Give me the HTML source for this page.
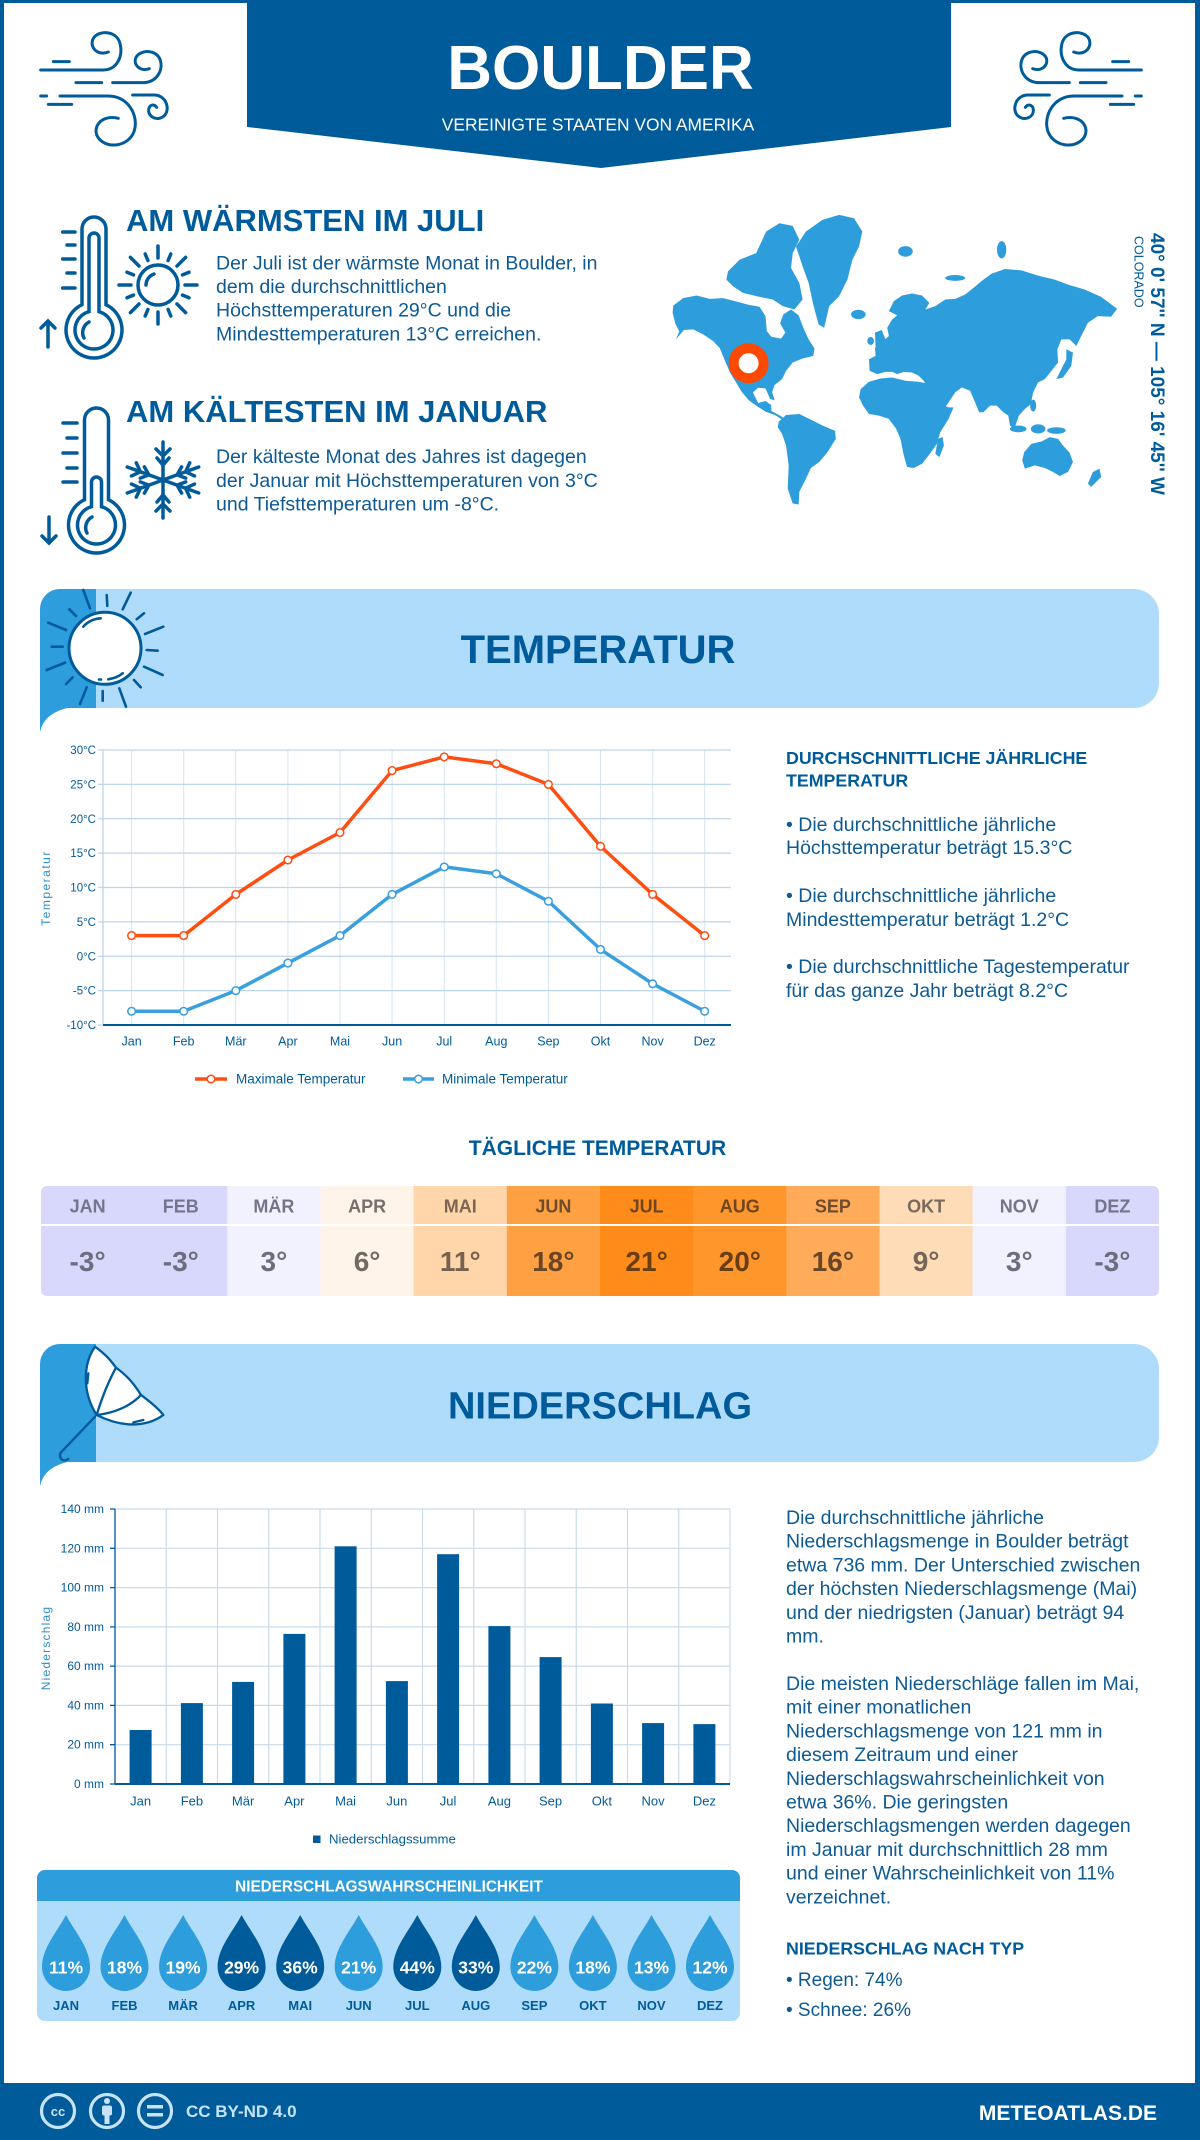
<!DOCTYPE html>
<html><head><meta charset="utf-8">
<style>
html,body{margin:0;padding:0;background:#fff;}
svg{display:block;}
text{font-family:"Liberation Sans",sans-serif;}
</style></head><body>
<svg width="1200" height="2140" viewBox="0 0 1200 2140" xmlns="http://www.w3.org/2000/svg">
<defs>
<path id="drop" d="M0,-52 C9,-35 24,-19 24,0 A24,24 0 1 1 -24,0 C-24,-19 -9,-35 0,-52 Z"/>
<g id="wind" fill="none" stroke="#005b9b" stroke-width="9" stroke-linecap="round">
<path d="M100,155 H148"/>
<path d="M62,180 H250 C290,180 310,140 300,100 C290,62 240,60 222,82 C205,105 228,140 265,126"/>
<path d="M168,218 H245"/>
<path d="M278,218 H368 C410,218 432,180 420,148 C408,118 362,118 348,142 C338,165 362,186 388,176"/>
<path d="M62,258 H80"/>
<path d="M120,258 H265 C325,258 358,318 342,365 C325,410 262,418 236,385 C214,356 240,312 295,325"/>
<path d="M85,283 H155"/>
<path d="M338,255 H402 C440,255 452,300 432,318 C412,334 385,322 386,300 C387,284 402,280 410,292"/>
</g>
</defs>

<!-- page border -->
<rect x="0" y="0" width="1200" height="3" fill="#005b9b"/>
<rect x="0" y="0" width="4" height="2140" fill="#005b9b"/>
<rect x="1195" y="0" width="5" height="2140" fill="#005b9b"/>

<!-- header -->
<polygon points="247,0 951,0 951,127 601,168 247,127" fill="#005b9b"/>
<text x="600.5" y="89" font-size="62" font-weight="bold" fill="#fff" text-anchor="middle">BOULDER</text>
<text x="598" y="130.5" font-size="17.4" fill="#fff" text-anchor="middle">VEREINIGTE STAATEN VON AMERIKA</text>
<g transform="translate(20,10) scale(0.3333)"><use href="#wind"/></g>
<g transform="translate(1182,0) scale(-1,1) translate(20,10) scale(0.3333)"><use href="#wind"/></g>

<!-- warm thermometer -->
<g fill="none" stroke="#005b9b" stroke-width="3.5" stroke-linecap="round">
<path d="M82,304.7 V229 A12,12 0 0 1 106,229 V304.7 A28,28 0 1 1 82,304.7 Z"/>
<path d="M89,311.7 V238 A5,5 0 0 1 99,238 V311.7 A19,19 0 1 1 89,311.7 Z"/>
<path d="M84,338 A12,12 0 0 1 89,322"/>
<path d="M62.7,232 H75 M67,245 H75 M62.7,259 H75 M67,273 H75 M62.7,288 H75"/>
<path d="M48,347 V321 M41,328 L48,321 L55,328"/>
<circle cx="158" cy="285" r="20"/>
<path d="M146,285 A12,12 0 0 1 154,274"/>
<g transform="translate(158,285)">
<path d="M0,-27 V-39 M0,27 V39 M-27,0 H-39 M27,0 H39 M19,-19 L27.6,-27.6 M-19,-19 L-27.6,-27.6 M19,19 L27.6,27.6 M-19,19 L-27.6,27.6"/>
<path d="M10.1,-24.5 L12.8,-31 M-10.1,-24.5 L-12.8,-31 M10.1,24.5 L12.8,31 M-10.1,24.5 L-12.8,31 M24.5,-10.1 L31,-12.8 M-24.5,-10.1 L-31,-12.8 M24.5,10.1 L31,12.8 M-24.5,10.1 L-31,12.8"/>
</g>
</g>
<text x="126" y="231" font-size="31" font-weight="bold" fill="#005b9b">AM WÄRMSTEN IM JULI</text>
<g font-size="19.5" fill="#0d5a94">
<text x="216" y="269.5">Der Juli ist der wärmste Monat in Boulder, in</text>
<text x="216" y="293">dem die durchschnittlichen</text>
<text x="216" y="316.7">Höchsttemperaturen 29°C und die</text>
<text x="216" y="340.4">Mindesttemperaturen 13°C erreichen.</text>
</g>

<!-- cold thermometer -->
<g fill="none" stroke="#005b9b" stroke-width="3.5" stroke-linecap="round">
<path d="M84.5,499.7 V420 A12,12 0 0 1 108.5,420 V499.7 A28,28 0 1 1 84.5,499.7 Z"/>
<path d="M91.5,506.7 V482 A5,5 0 0 1 101.5,482 V506.7 A19,19 0 1 1 91.5,506.7 Z"/>
<path d="M87,533 A12,12 0 0 1 92,517"/>
<path d="M63,423 H77 M67,438 H77 M63,453 H77 M67,468 H77 M63,482 H77"/>
<path d="M49,517 V543 M42,536 L49,543 L56,536"/>
<g transform="translate(163,480)">
<g id="arm"><path d="M0,0 V-38 M-7,-31 L0,-24 L7,-31 M-6,-22 L0,-15 L6,-22"/></g>
<use href="#arm" transform="rotate(70)"/>
<use href="#arm" transform="rotate(110)"/>
<use href="#arm" transform="rotate(180)"/>
<use href="#arm" transform="rotate(250)"/>
<use href="#arm" transform="rotate(290)"/>
</g>
</g>
<text x="126" y="422" font-size="31" font-weight="bold" fill="#005b9b">AM KÄLTESTEN IM JANUAR</text>
<g font-size="19.5" fill="#0d5a94">
<text x="216" y="463">Der kälteste Monat des Jahres ist dagegen</text>
<text x="216" y="487">der Januar mit Höchsttemperaturen von 3°C</text>
<text x="216" y="510.5">und Tiefsttemperaturen um -8°C.</text>
</g>

<!-- world map -->
<g fill="#2e9ddc" transform="translate(660,200) scale(0.3317)">
<path d="M40,318 L70,296 L110,288 L150,298 L190,296 L230,306 L268,316 L300,322 L318,350 L322,395 L335,412 L365,418 L378,400 L362,372 L372,345 L395,330 L418,348 L432,385 L448,420 L466,448 L462,470 L430,478 L400,490 L380,515 L368,540 L345,558 L338,580 L346,604 L332,600 L318,568 L296,566 L280,580 L296,612 L318,606 L335,618 L336,636 L362,650 L388,666 L372,664 L346,648 L318,638 L296,624 L268,604 L246,578 L228,548 L212,522 L200,495 L190,470 L180,446 L160,425 L130,405 L100,390 L72,392 L48,420 L58,396 L46,372 L38,340 Z"/>
<path d="M205,215 L240,180 L290,160 L320,95 L360,70 L400,78 L420,120 L400,160 L395,205 L420,250 L430,300 L405,330 L370,320 L340,300 L300,292 L250,280 L220,260 L200,240 Z"/>
<path d="M410,140 L440,95 L490,60 L540,45 L585,55 L610,95 L600,140 L580,180 L565,240 L540,290 L510,320 L495,385 L478,375 L462,315 L448,250 L430,200 Z"/>
<ellipse cx="598" cy="345" rx="22" ry="14"/>
<path d="M648,400 L668,392 L680,420 L672,445 L650,442 Z"/>
<ellipse cx="635" cy="425" rx="10" ry="12"/>
<path d="M690,335 L705,305 L730,288 L760,282 L790,288 L812,310 L800,330 L830,320 L860,300 L890,298 L920,285 L945,265 L975,240 L1000,222 L1040,208 L1090,212 L1140,228 L1190,240 L1230,255 L1280,270 L1330,292 L1378,328 L1360,352 L1320,350 L1290,370 L1270,410 L1255,440 L1235,420 L1210,420 L1198,450 L1200,490 L1180,515 L1160,540 L1140,550 L1125,580 L1118,615 L1100,630 L1082,650 L1068,690 L1055,680 L1050,650 L1035,640 L1015,620 L995,620 L975,640 L962,640 L950,610 L935,575 L910,565 L890,580 L880,595 L860,625 L840,625 L822,600 L810,570 L795,545 L780,530 L760,520 L735,518 L715,525 L700,518 L680,518 L655,525 L632,515 L630,480 L650,470 L648,445 L668,430 L690,410 L685,385 L700,360 L715,348 Z"/>
<path d="M605,570 L630,548 L665,538 L700,535 L740,545 L780,548 L800,552 L820,585 L840,615 L870,625 L885,625 L870,660 L845,700 L835,735 L810,770 L790,795 L765,808 L745,805 L735,770 L725,720 L712,690 L690,660 L660,650 L630,645 L612,620 L600,595 Z"/>
<path d="M838,720 L852,715 L856,740 L842,775 L830,765 Z"/>
<path d="M358,668 L380,648 L420,645 L450,660 L490,680 L528,696 L530,720 L505,760 L480,790 L455,808 L440,840 L420,880 L418,918 L400,915 L385,870 L388,800 L380,740 L368,705 L355,685 Z"/>
<path d="M1098,760 L1120,735 L1150,728 L1175,715 L1200,720 L1215,740 L1235,762 L1245,790 L1230,820 L1205,832 L1185,820 L1160,808 L1130,800 L1100,810 L1092,785 Z"/>
<ellipse cx="1080" cy="690" rx="25" ry="10"/>
<ellipse cx="1140" cy="690" rx="22" ry="14"/>
<ellipse cx="1195" cy="695" rx="28" ry="10"/>
<ellipse cx="1125" cy="620" rx="9" ry="18"/>
<path d="M1225,450 L1245,460 L1240,500 L1215,535 L1195,540 L1210,510 L1225,480 Z"/>
<path d="M1305,820 L1325,810 L1330,835 L1300,865 L1290,855 Z"/>
<ellipse cx="740" cy="155" rx="22" ry="16"/>
<ellipse cx="1030" cy="150" rx="14" ry="26"/>
<ellipse cx="890" cy="235" rx="30" ry="9"/>
</g>
<circle cx="748.6" cy="363.2" r="15" fill="#fff" stroke="#fe4a00" stroke-width="10"/>
<text transform="translate(1151,233) rotate(90)" font-size="19" font-weight="bold" fill="#005b9b">40° 0' 57'' N — 105° 16' 45'' W</text>
<text transform="translate(1134.5,236) rotate(90)" font-size="12.5" fill="#005b9b">COLORADO</text>

<!-- TEMPERATUR banner -->
<path d="M60,589 H1134 A25,25 0 0 1 1159,614 V683 A25,25 0 0 1 1134,708 H40 V609 A20,20 0 0 1 60,589 Z" fill="#b0dcfc"/>
<path d="M40,609 A20,20 0 0 1 60,589 H96 V708 H40 Z" fill="#2e9ddc"/>
<path d="M40,707 H72 Q44,712 40,732 Z" fill="#2e9ddc"/>
<g stroke="#005b9b" stroke-width="2.6" stroke-linecap="round" fill="none">
<path d="M83.3,590 L90,608.3 M106.7,595 L107.3,606 M130.7,592.7 L122.7,609.3 M144,613.3 L136.7,619.3 M163.3,626.7 L145,634 M146.7,650 L157.7,650.7 M144,666.7 L162.7,675 M134,680 L140.7,687.3 M119.3,688.3 L126,706.7 M102.7,691 L102.7,700.7 M86.7,687.3 L80,704 M72.7,677.3 L66,684 M65,662.7 L46.7,670 M51.7,646.7 L62.7,646.7 M48.3,622.7 L66,630 M69.3,609.3 L76,616"/>
<circle cx="105" cy="648.3" r="36" fill="#fff" stroke-width="3"/>
<path d="M83.3,626.7 Q90,619 100.7,618.3 M108.3,679.3 Q117,678 122.7,673.3 M99,679.5 L101,679.5"/>
</g>
<text x="598" y="663" font-size="40" font-weight="bold" fill="#005b9b" text-anchor="middle">TEMPERATUR</text>

<!-- temperature chart -->
<g stroke="#d5e5f2" stroke-width="1">
<path d="M131.6,750 V1025 M183.7,750 V1025 M235.8,750 V1025 M287.9,750 V1025 M340,750 V1025 M392.1,750 V1025 M444.2,750 V1025 M496.3,750 V1025 M548.4,750 V1025 M600.5,750 V1025 M652.6,750 V1025 M704.7,750 V1025"/>
</g>
<g stroke="#bcd6eb" stroke-width="1.3">
<path d="M103,750 H731 M103,784.4 H731 M103,818.75 H731 M103,853.1 H731 M103,887.5 H731 M103,921.9 H731 M103,956.25 H731 M103,990.6 H731"/>
<path d="M98,750 H103 M98,784.4 H103 M98,818.75 H103 M98,853.1 H103 M98,887.5 H103 M98,921.9 H103 M98,956.25 H103 M98,990.6 H103 M98,1025 H103"/>
<path d="M103,750 V1025"/>
</g>
<path d="M103,1025 H731" stroke="#005b9b" stroke-width="2"/>
<g font-size="11.5" fill="#005b9b" text-anchor="end">
<text x="96" y="754">30°C</text><text x="96" y="788.4">25°C</text><text x="96" y="822.75">20°C</text><text x="96" y="857.1">15°C</text><text x="96" y="891.5">10°C</text><text x="96" y="925.9">5°C</text><text x="96" y="960.25">0°C</text><text x="96" y="994.6">-5°C</text><text x="96" y="1029">-10°C</text>
</g>
<g font-size="12.5" fill="#005b9b" text-anchor="middle">
<text x="131.6" y="1045.5">Jan</text><text x="183.7" y="1045.5">Feb</text><text x="235.8" y="1045.5">Mär</text><text x="287.9" y="1045.5">Apr</text><text x="340" y="1045.5">Mai</text><text x="392.1" y="1045.5">Jun</text><text x="444.2" y="1045.5">Jul</text><text x="496.3" y="1045.5">Aug</text><text x="548.4" y="1045.5">Sep</text><text x="600.5" y="1045.5">Okt</text><text x="652.6" y="1045.5">Nov</text><text x="704.7" y="1045.5">Dez</text>
</g>
<text transform="translate(50,888) rotate(-90)" font-size="12" fill="#2e8fd0" text-anchor="middle" letter-spacing="1.5">Temperatur</text>
<polyline fill="none" stroke="#fe4e12" stroke-width="3.5" stroke-linejoin="round" points="131.6,935.6 183.7,935.6 235.8,894.4 287.9,860 340,832.5 392.1,770.6 444.2,756.9 496.3,763.75 548.4,784.4 600.5,846.25 652.6,894.4 704.7,935.6"/>
<g fill="#fff" stroke="#fe4e12" stroke-width="1.5">
<circle cx="131.6" cy="935.6" r="3.8"/><circle cx="183.7" cy="935.6" r="3.8"/><circle cx="235.8" cy="894.4" r="3.8"/><circle cx="287.9" cy="860" r="3.8"/><circle cx="340" cy="832.5" r="3.8"/><circle cx="392.1" cy="770.6" r="3.8"/><circle cx="444.2" cy="756.9" r="3.8"/><circle cx="496.3" cy="763.75" r="3.8"/><circle cx="548.4" cy="784.4" r="3.8"/><circle cx="600.5" cy="846.25" r="3.8"/><circle cx="652.6" cy="894.4" r="3.8"/><circle cx="704.7" cy="935.6" r="3.8"/>
</g>
<polyline fill="none" stroke="#3a9fdf" stroke-width="3.5" stroke-linejoin="round" points="131.6,1011.25 183.7,1011.25 235.8,990.6 287.9,963.1 340,935.6 392.1,894.4 444.2,866.9 496.3,873.75 548.4,901.25 600.5,949.4 652.6,983.75 704.7,1011.25"/>
<g fill="#fff" stroke="#3a9fdf" stroke-width="1.5">
<circle cx="131.6" cy="1011.25" r="3.8"/><circle cx="183.7" cy="1011.25" r="3.8"/><circle cx="235.8" cy="990.6" r="3.8"/><circle cx="287.9" cy="963.1" r="3.8"/><circle cx="340" cy="935.6" r="3.8"/><circle cx="392.1" cy="894.4" r="3.8"/><circle cx="444.2" cy="866.9" r="3.8"/><circle cx="496.3" cy="873.75" r="3.8"/><circle cx="548.4" cy="901.25" r="3.8"/><circle cx="600.5" cy="949.4" r="3.8"/><circle cx="652.6" cy="983.75" r="3.8"/><circle cx="704.7" cy="1011.25" r="3.8"/>
</g>
<path d="M195,1079 H227" stroke="#fe4e12" stroke-width="3.5"/>
<circle cx="211" cy="1079" r="3.8" fill="#fff" stroke="#fe4e12" stroke-width="1.5"/>
<text x="236" y="1083.5" font-size="13.5" fill="#005b9b">Maximale Temperatur</text>
<path d="M403,1079 H434" stroke="#3a9fdf" stroke-width="3.5"/>
<circle cx="418.5" cy="1079" r="3.8" fill="#fff" stroke="#3a9fdf" stroke-width="1.5"/>
<text x="442" y="1083.5" font-size="13.5" fill="#005b9b">Minimale Temperatur</text>

<!-- temperature right text -->
<g font-size="17.8" font-weight="bold" fill="#005b9b">
<text x="786" y="764">DURCHSCHNITTLICHE JÄHRLICHE</text>
<text x="786" y="786.5">TEMPERATUR</text>
</g>
<g font-size="19.5" fill="#0d5a94">
<text x="786" y="831">• Die durchschnittliche jährliche</text>
<text x="786" y="854">Höchsttemperatur beträgt 15.3°C</text>
<text x="786" y="902">• Die durchschnittliche jährliche</text>
<text x="786" y="926">Mindesttemperatur beträgt 1.2°C</text>
<text x="786" y="973">• Die durchschnittliche Tagestemperatur</text>
<text x="786" y="997">für das ganze Jahr beträgt 8.2°C</text>
</g>

<!-- daily temperature -->
<text x="597.5" y="1155" font-size="21" font-weight="bold" fill="#005b9b" text-anchor="middle">TÄGLICHE TEMPERATUR</text>
<clipPath id="tbl"><rect x="41" y="1186" width="1118" height="110" rx="6"/></clipPath>
<g clip-path="url(#tbl)">
<rect x="41" y="1186" width="94" height="110" fill="#d8d8fc"/>
<rect x="134.17" y="1186" width="94" height="110" fill="#d8d8fc"/>
<rect x="227.33" y="1186" width="94" height="110" fill="#f2f2fe"/>
<rect x="320.5" y="1186" width="94" height="110" fill="#fff4ea"/>
<rect x="413.67" y="1186" width="94" height="110" fill="#ffd5aa"/>
<rect x="506.83" y="1186" width="94" height="110" fill="#ffa142"/>
<rect x="600" y="1186" width="94" height="110" fill="#ff8c1a"/>
<rect x="693.17" y="1186" width="94" height="110" fill="#ff962b"/>
<rect x="786.33" y="1186" width="94" height="110" fill="#ffab5a"/>
<rect x="879.5" y="1186" width="94" height="110" fill="#ffdcb8"/>
<rect x="972.67" y="1186" width="94" height="110" fill="#f2f2fe"/>
<rect x="1065.83" y="1186" width="94" height="110" fill="#d8d8fc"/>
<rect x="41" y="1224" width="1118" height="2" fill="#fff"/>
</g>
<g font-size="18" font-weight="bold" text-anchor="middle" fill="#74748a">
<text x="87.6" y="1212.5">JAN</text><text x="180.8" y="1212.5">FEB</text><text x="273.9" y="1212.5">MÄR</text><text x="367.1" y="1212.5" fill="#76706c">APR</text><text x="460.3" y="1212.5" fill="#7a6652">MAI</text><text x="553.4" y="1212.5" fill="#6e4c2c">JUN</text><text x="646.6" y="1212.5" fill="#6e4620">JUL</text><text x="739.8" y="1212.5" fill="#6e4620">AUG</text><text x="832.9" y="1212.5" fill="#6e4c2c">SEP</text><text x="926.1" y="1212.5" fill="#7a6a5a">OKT</text><text x="1019.3" y="1212.5">NOV</text><text x="1112.4" y="1212.5">DEZ</text>
</g>
<g font-size="28" font-weight="bold" text-anchor="middle" fill="#6d6d7f">
<text x="87.6" y="1271">-3°</text><text x="180.8" y="1271">-3°</text><text x="273.9" y="1271">3°</text><text x="367.1" y="1271" fill="#706a66">6°</text><text x="460.3" y="1271" fill="#756250">11°</text><text x="553.4" y="1271" fill="#6a4526">18°</text><text x="646.6" y="1271" fill="#673d14">21°</text><text x="739.8" y="1271" fill="#673d14">20°</text><text x="832.9" y="1271" fill="#6a4526">16°</text><text x="926.1" y="1271" fill="#76665a">9°</text><text x="1019.3" y="1271">3°</text><text x="1112.4" y="1271">-3°</text>
</g>

<!-- NIEDERSCHLAG banner -->
<path d="M60,1344 H1134 A25,25 0 0 1 1159,1369 V1437 A25,25 0 0 1 1134,1462 H40 V1364 A20,20 0 0 1 60,1344 Z" fill="#b0dcfc"/>
<path d="M40,1364 A20,20 0 0 1 60,1344 H96 V1462 H40 Z" fill="#2e9ddc"/>
<path d="M40,1461 H72 Q44,1466 40,1486 Z" fill="#2e9ddc"/>
<g transform="translate(30,1335) scale(0.3333)" stroke="#005b9b" stroke-width="7" stroke-linecap="round" stroke-linejoin="round">
<path d="M195,35 C230,60 245,80 258,98 C290,120 315,150 333,180 C360,200 385,220 400,240 C360,270 290,285 200,240 C155,170 160,85 195,35 Z" fill="#fff"/>
<path d="M200,240 C215,190 235,140 258,98 M200,240 C250,235 300,215 333,180 M175,115 L172,145 M310,262 L340,255" fill="none"/>
<path d="M195,245 L95,350 C82,362 95,385 115,372" fill="none"/>
</g>
<text x="600" y="1418.5" font-size="38" font-weight="bold" fill="#005b9b" text-anchor="middle">NIEDERSCHLAG</text>

<!-- precipitation chart -->
<g stroke="#c8dcec" stroke-width="1.2">
<path d="M166.25,1509 V1784 M217.5,1509 V1784 M268.75,1509 V1784 M320,1509 V1784 M371.25,1509 V1784 M422.5,1509 V1784 M473.75,1509 V1784 M525,1509 V1784 M576.25,1509 V1784 M627.5,1509 V1784 M678.75,1509 V1784 M730,1509 V1784"/>
<path d="M115,1509 H730 M115,1548.3 H730 M115,1587.6 H730 M115,1626.9 H730 M115,1666.1 H730 M115,1705.4 H730 M115,1744.7 H730"/>
</g>
<g stroke="#005b9b" stroke-width="1.3">
<path d="M115,1509 V1784 M110,1509 H115 M110,1548.3 H115 M110,1587.6 H115 M110,1626.9 H115 M110,1666.1 H115 M110,1705.4 H115 M110,1744.7 H115 M110,1784 H115"/>
</g>
<path d="M115,1784 H730" stroke="#005b9b" stroke-width="2"/>
<g fill="#005b9b">
<rect x="129.6" y="1730" width="22" height="54"/>
<rect x="180.9" y="1703.1" width="22" height="80.9"/>
<rect x="232.1" y="1681.9" width="22" height="102.1"/>
<rect x="283.4" y="1633.9" width="22" height="150.1"/>
<rect x="334.6" y="1546.3" width="22" height="237.7"/>
<rect x="385.9" y="1681.1" width="22" height="102.9"/>
<rect x="437.1" y="1554.2" width="22" height="229.8"/>
<rect x="488.4" y="1626.1" width="22" height="157.9"/>
<rect x="539.6" y="1657.1" width="22" height="126.9"/>
<rect x="590.9" y="1703.5" width="22" height="80.5"/>
<rect x="642.1" y="1723.1" width="22" height="60.9"/>
<rect x="693.4" y="1724.1" width="22" height="59.9"/>
</g>
<g font-size="12" fill="#005b9b" text-anchor="end">
<text x="104" y="1513">140 mm</text><text x="104" y="1552.3">120 mm</text><text x="104" y="1591.6">100 mm</text><text x="104" y="1630.9">80 mm</text><text x="104" y="1670.1">60 mm</text><text x="104" y="1709.4">40 mm</text><text x="104" y="1748.7">20 mm</text><text x="104" y="1788">0 mm</text>
</g>
<g font-size="13" fill="#005b9b" text-anchor="middle">
<text x="140.6" y="1805.5">Jan</text><text x="191.9" y="1805.5">Feb</text><text x="243.1" y="1805.5">Mär</text><text x="294.4" y="1805.5">Apr</text><text x="345.6" y="1805.5">Mai</text><text x="396.9" y="1805.5">Jun</text><text x="448.1" y="1805.5">Jul</text><text x="499.4" y="1805.5">Aug</text><text x="550.6" y="1805.5">Sep</text><text x="601.9" y="1805.5">Okt</text><text x="653.1" y="1805.5">Nov</text><text x="704.4" y="1805.5">Dez</text>
</g>
<text transform="translate(50,1648) rotate(-90)" font-size="12" fill="#2e8fd0" text-anchor="middle" letter-spacing="1.2">Niederschlag</text>
<rect x="313" y="1835.5" width="7.5" height="7.5" fill="#005b9b"/>
<text x="329" y="1843.5" font-size="13.2" fill="#005b9b">Niederschlagssumme</text>

<!-- precip right text -->
<g font-size="19.5" fill="#0d5a94">
<text x="786" y="1524">Die durchschnittliche jährliche</text>
<text x="786" y="1547.7">Niederschlagsmenge in Boulder beträgt</text>
<text x="786" y="1571.4">etwa 736 mm. Der Unterschied zwischen</text>
<text x="786" y="1595.1">der höchsten Niederschlagsmenge (Mai)</text>
<text x="786" y="1618.8">und der niedrigsten (Januar) beträgt 94</text>
<text x="786" y="1642.5">mm.</text>
<text x="786" y="1690">Die meisten Niederschläge fallen im Mai,</text>
<text x="786" y="1713.7">mit einer monatlichen</text>
<text x="786" y="1737.4">Niederschlagsmenge von 121 mm in</text>
<text x="786" y="1761.1">diesem Zeitraum und einer</text>
<text x="786" y="1784.8">Niederschlagswahrscheinlichkeit von</text>
<text x="786" y="1808.5">etwa 36%. Die geringsten</text>
<text x="786" y="1832.2">Niederschlagsmengen werden dagegen</text>
<text x="786" y="1855.9">im Januar mit durchschnittlich 28 mm</text>
<text x="786" y="1879.6">und einer Wahrscheinlichkeit von 11%</text>
<text x="786" y="1903.3">verzeichnet.</text>
</g>
<text x="786" y="1954.5" font-size="17.8" font-weight="bold" fill="#005b9b">NIEDERSCHLAG NACH TYP</text>
<g font-size="19" fill="#0d5a94">
<text x="786" y="1986">• Regen: 74%</text>
<text x="786" y="2016">• Schnee: 26%</text>
</g>

<!-- probability box -->
<clipPath id="pb"><rect x="37" y="1870" width="703" height="151" rx="8"/></clipPath>
<g clip-path="url(#pb)">
<rect x="37" y="1870" width="703" height="151" fill="#b0dcfc"/>
<rect x="37" y="1870" width="703" height="31" fill="#2e9ddc"/>
</g>
<text x="389" y="1891.5" font-size="15.3" font-weight="bold" fill="#fff" text-anchor="middle">NIEDERSCHLAGSWAHRSCHEINLICHKEIT</text>
<g>
<use href="#drop" transform="translate(66,1967)" fill="#2e9ddc"/>
<use href="#drop" transform="translate(124.5,1967)" fill="#2e9ddc"/>
<use href="#drop" transform="translate(183.1,1967)" fill="#2e9ddc"/>
<use href="#drop" transform="translate(241.6,1967)" fill="#005b9b"/>
<use href="#drop" transform="translate(300.2,1967)" fill="#005b9b"/>
<use href="#drop" transform="translate(358.7,1967)" fill="#2e9ddc"/>
<use href="#drop" transform="translate(417.3,1967)" fill="#005b9b"/>
<use href="#drop" transform="translate(475.8,1967)" fill="#005b9b"/>
<use href="#drop" transform="translate(534.4,1967)" fill="#2e9ddc"/>
<use href="#drop" transform="translate(592.9,1967)" fill="#2e9ddc"/>
<use href="#drop" transform="translate(651.5,1967)" fill="#2e9ddc"/>
<use href="#drop" transform="translate(710,1967)" fill="#2e9ddc"/>
</g>
<g font-size="17.5" font-weight="bold" fill="#fff" text-anchor="middle">
<text x="66" y="1973.3">11%</text><text x="124.5" y="1973.3">18%</text><text x="183.1" y="1973.3">19%</text><text x="241.6" y="1973.3">29%</text><text x="300.2" y="1973.3">36%</text><text x="358.7" y="1973.3">21%</text><text x="417.3" y="1973.3">44%</text><text x="475.8" y="1973.3">33%</text><text x="534.4" y="1973.3">22%</text><text x="592.9" y="1973.3">18%</text><text x="651.5" y="1973.3">13%</text><text x="710" y="1973.3">12%</text>
</g>
<g font-size="13" font-weight="bold" fill="#005b9b" text-anchor="middle">
<text x="66" y="2010">JAN</text><text x="124.5" y="2010">FEB</text><text x="183.1" y="2010">MÄR</text><text x="241.6" y="2010">APR</text><text x="300.2" y="2010">MAI</text><text x="358.7" y="2010">JUN</text><text x="417.3" y="2010">JUL</text><text x="475.8" y="2010">AUG</text><text x="534.4" y="2010">SEP</text><text x="592.9" y="2010">OKT</text><text x="651.5" y="2010">NOV</text><text x="710" y="2010">DEZ</text>
</g>

<!-- footer -->
<rect x="0" y="2083" width="1200" height="57" fill="#005b9b"/>
<g fill="none" stroke="#c6e3f8" stroke-width="3.2">
<circle cx="58" cy="2111" r="16.5"/>
<circle cx="107" cy="2111" r="16.5"/>
<circle cx="155" cy="2111" r="16.5"/>
</g>
<text x="58" y="2116" font-size="13" font-weight="bold" fill="#c6e3f8" text-anchor="middle">cc</text>
<g fill="#c6e3f8">
<circle cx="107" cy="2101" r="3"/>
<rect x="102" y="2105.5" width="10" height="10" rx="2"/>
<rect x="104.5" y="2114" width="5" height="10"/>
<rect x="147" y="2105" width="16" height="3.5"/>
<rect x="147" y="2113" width="16" height="3.5"/>
</g>
<text x="186" y="2117" font-size="17" font-weight="bold" fill="#c6e3f8">CC BY-ND 4.0</text>
<text x="1157" y="2120" font-size="21" font-weight="bold" fill="#fff" text-anchor="end">METEOATLAS.DE</text>
</svg>
</body></html>
